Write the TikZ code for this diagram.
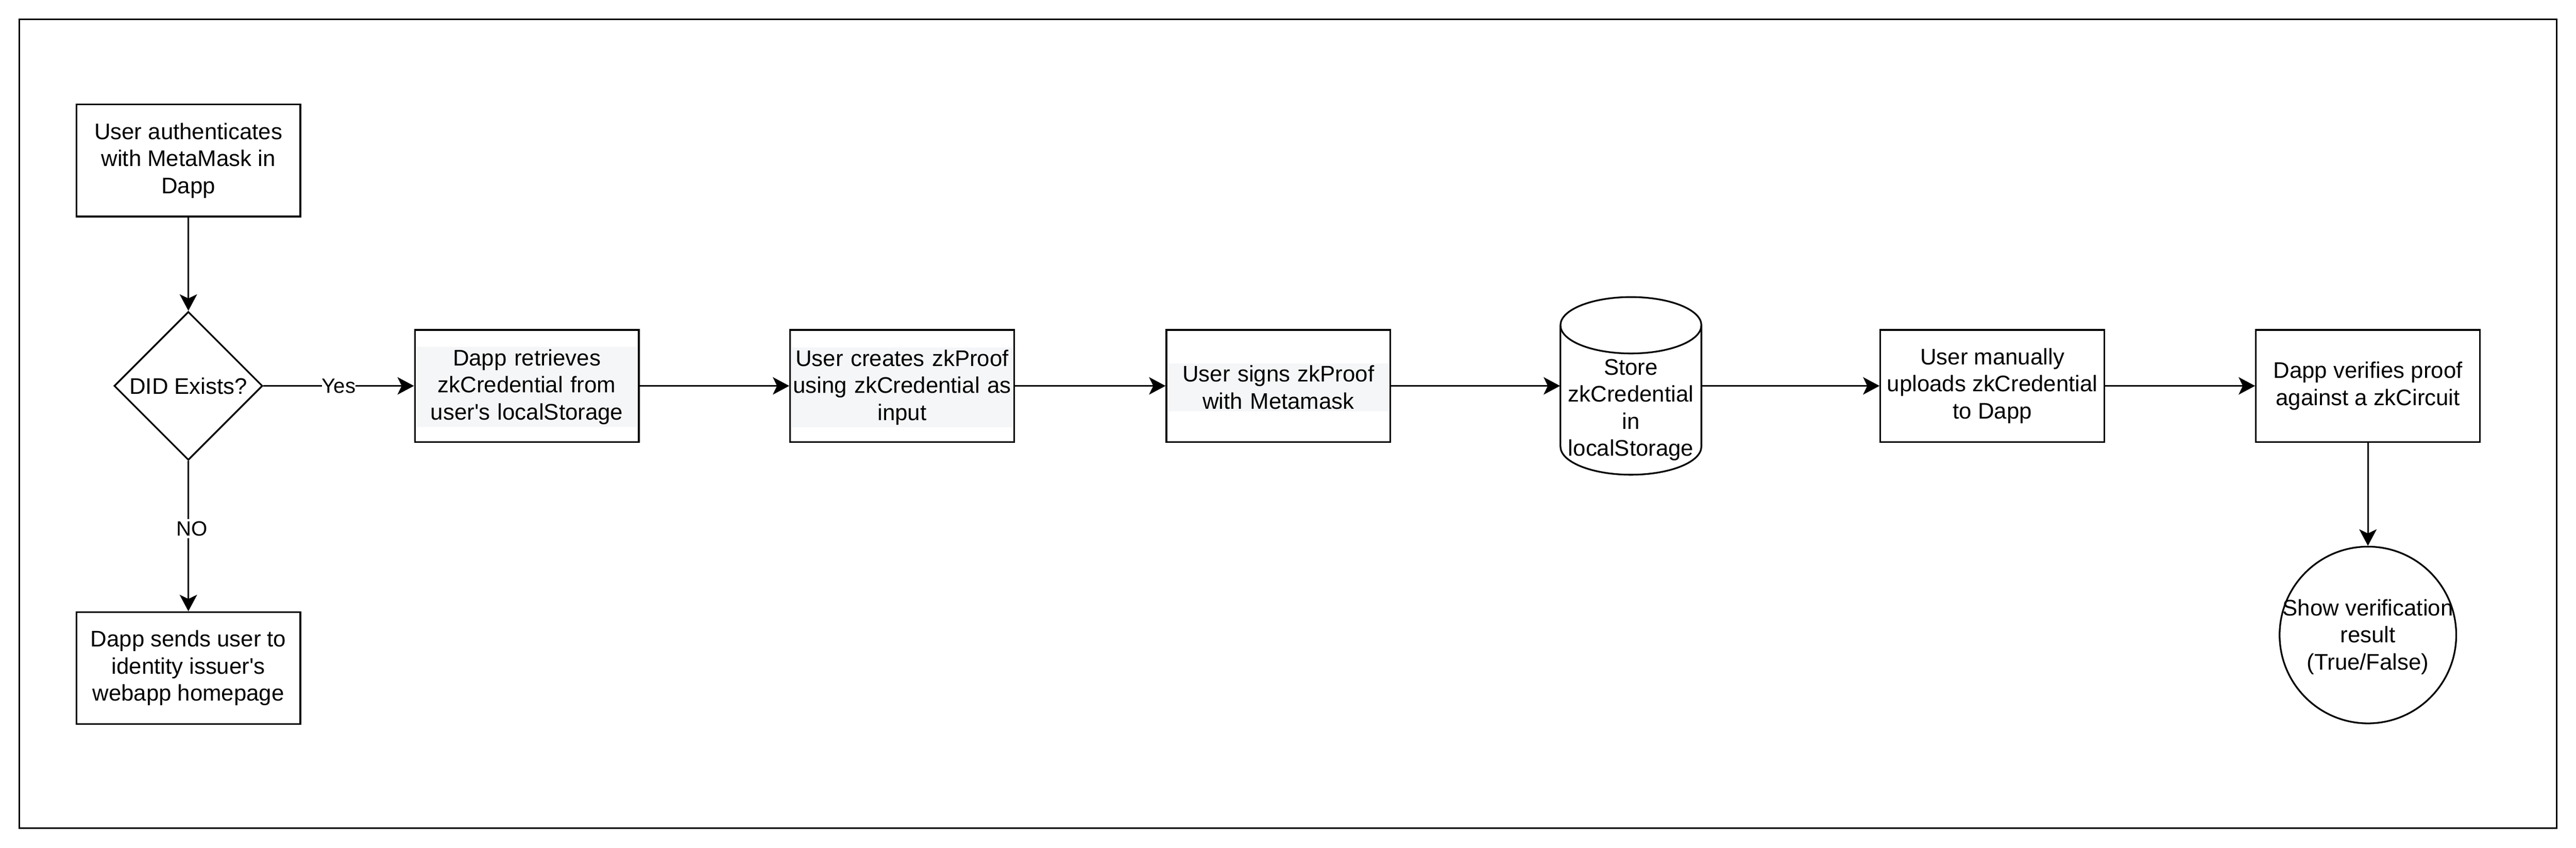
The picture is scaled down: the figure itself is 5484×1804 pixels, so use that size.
\documentclass[tikz,border=0pt]{standalone}
\usepackage{fontspec}
\setmainfont{Liberation Sans}
\usetikzlibrary{shapes.geometric,arrows.meta}
\definecolor{hl}{RGB}{245,246,248}
\begin{document}
\begin{tikzpicture}[x=0.25pt,y=-0.25pt,
  every node/.style={font=\fontsize{12}{14.4}\selectfont},
  lw/.style={line width=0.9pt},
  box/.style={draw, lw, rectangle, minimum width=119.2pt, minimum height=59.6pt, inner sep=0pt, align=center},
  txt/.style={align=center, text width=117.5pt, inner sep=0pt},
  hltxt/.style={txt, fill=hl, inner ysep=1.2pt},
  arr/.style={lw, -{Stealth[length=8.75pt,width=9.25pt,inset=2.2pt]}},
  lbl/.style={font=\fontsize{11}{13.2}\selectfont, fill=white, inner xsep=0pt, inner ysep=1.2pt}]
\fill[white] (0,0) rectangle (5484,1804);
\useasboundingbox (0,0) rectangle (5484,1804);
\draw[lw] (41,41) rectangle (5443,1762);

% left column
\node[box] (auth) at (401,341.5) {User authenticates\\with MetaMask in\\Dapp};
\node[draw, lw, diamond, aspect=1, minimum width=79pt, minimum height=79pt, inner sep=0pt] (did) at (401,821) {DID Exists?};
\node[box] (send) at (401,1421.5) {Dapp sends user to\\identity issuer\textquotesingle s\\webapp homepage};

% main row
\node[box] (retr) at (1121.5,821) {};
\node[hltxt] (retrt) at (1121.5,823) {Dapp retrieves\\zkCredential from\\user\textquotesingle s localStorage};
\node[box] (crea) at (1920.5,821) {};
\node[hltxt] (creat) at (1920.5,824) {User creates zkProof\\using zkCredential as\\input};
\node[box] (sign) at (2721.5,821) {};
\node[hltxt] (signt) at (2721.5,824) {User signs zkProof\\with Metamask};

% cylinder
\node[minimum width=75pt, minimum height=94.5pt, inner sep=0pt] (cyl) at (3472,821) {};
\draw[lw] (3322,692) -- (3322,950) arc[start angle=180,end angle=360,x radius=37.5pt,y radius=15pt] -- (3622,692);
\draw[lw] (3472,692) ellipse [x radius=37.5pt, y radius=15pt];
\node[align=center, inner sep=0pt] (cylt) at (3472,872) {Store\\zkCredential\\in\\localStorage};

\node[box] (upl) at (4241.5,821) {User manually\\uploads zkCredential\\to Dapp};
\node[box] (ver) at (5041,821) {Dapp verifies proof\\against a zkCircuit};
\node[draw, lw, circle, minimum size=94pt, inner sep=0pt] (res) at (5041,1351) {};
\node[align=center, inner sep=0pt] (rest) at (5041,1355) {Show verification\\result\\(True/False)};

% connectors
\draw[arr] (auth) -- (did);
\draw[arr] (did) -- node[lbl] (yes) {Yes} (retr);
\draw[arr] (did) -- node[lbl, pos=0.45, xshift=2pt] (no) {NO} (send);
\draw[arr] (retr) -- (crea);
\draw[arr] (crea) -- (sign);
\draw[arr] (sign) -- (cyl);
\draw[arr] (cyl) -- (upl);
\draw[arr] (upl) -- (ver);
\draw[arr] (ver) -- (res);
\end{tikzpicture}
\end{document}
